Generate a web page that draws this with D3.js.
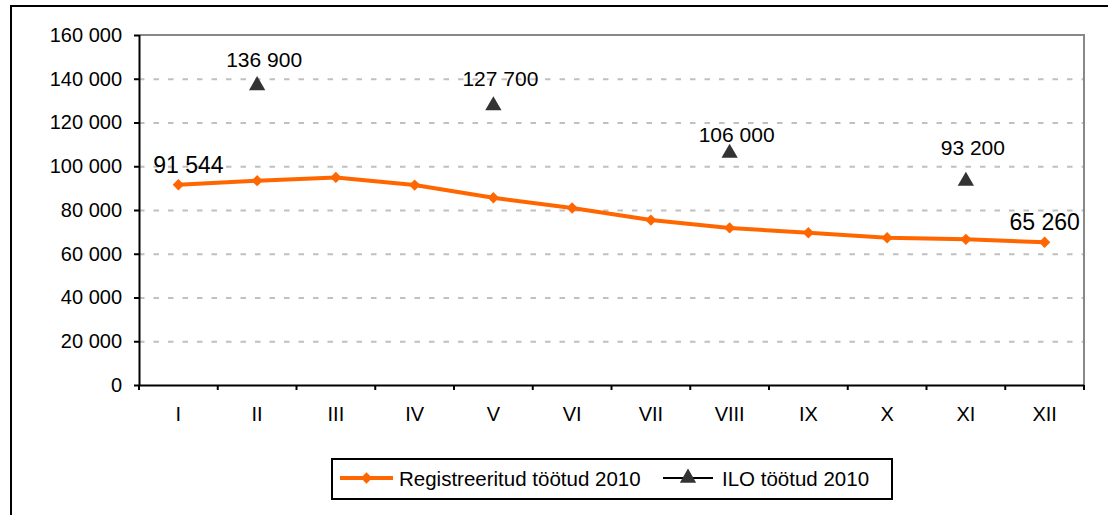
<!DOCTYPE html>
<html>
<head>
<meta charset="utf-8">
<script src="https://cdn.jsdelivr.net/npm/d3@7"></script>
<style>
  html, body { margin: 0; padding: 0; background: #fff; }
  svg { display: block; font-family: "Liberation Sans", Arial, sans-serif; }
</style>
</head>
<body>
<svg id="chart" width="1108" height="515"></svg>
<script>
const months = ["I","II","III","IV","V","VI","VII","VIII","IX","X","XI","XII"];
const registered = [91544, 93400, 94900, 91400, 85600, 80900, 75400, 71800, 69600, 67300, 66600, 65260];
const iloMonths = ["II","V","VIII","XI"];
const iloValues = [136900, 127700, 106000, 93200];
const yTicks = [0, 20000, 40000, 60000, 80000, 100000, 120000, 140000, 160000];
const seriesNames = ["Registreeritud töötud 2010", "ILO töötud 2010"];

const svg = d3.select("#chart");
const W = 1108, H = 515;
const pLeft = 139, pRight = 1084, pTop = 35, pBottom = 385;
const orange = "#FF6600", dark = "#333333";
const ff = "Liberation Sans, Arial, sans-serif";
// vertical offsets of the ILO value labels (layout only)
const iloLabelDy = [-19, -20, -11, -26];

// outer frame (extends beyond the visible area)
svg.append("path").attr("d", `M11,${H+10} L11,6 L${W+10},6`)
  .attr("fill","none").attr("stroke","#000").attr("stroke-width",2);

const x = d3.scaleBand().domain(months).range([pLeft, pRight]).padding(0);
const y = d3.scaleLinear().domain([0, 160000]).range([pBottom, pTop]);
const fmt = v => d3.format(",")(v).replace(/,/g, " ");

// gridlines
svg.append("g").attr("transform", `translate(${pLeft},0)`)
  .call(d3.axisLeft(y).tickValues(yTicks.filter(v => v > 0 && v < 160000)).tickSize(-(pRight-pLeft)).tickFormat(""))
  .call(g => g.select(".domain").remove())
  .call(g => g.selectAll("line").attr("stroke","#c0c0c0").attr("stroke-width",2).attr("stroke-dasharray","5.5,9"));

// top and right plot border
svg.append("path").attr("d", `M${pLeft},${pTop} L${pRight},${pTop} L${pRight},${pBottom}`)
  .attr("fill","none").attr("stroke","#888").attr("stroke-width",2);

// y axis
svg.append("g").attr("transform", `translate(${pLeft},0)`)
  .call(d3.axisLeft(y).tickValues(yTicks).tickSize(5).tickPadding(12).tickFormat(fmt))
  .call(g => g.select(".domain").attr("stroke","#000").attr("stroke-width",2).attr("d", `M0.5,${pTop}V${pBottom}`))
  .call(g => g.selectAll("line").attr("stroke","#000").attr("stroke-width",2))
  .call(g => g.selectAll("text").attr("font-size",20).attr("fill","#000").attr("font-family",ff));

// x axis
const xa = svg.append("g").attr("transform", `translate(0,${pBottom})`)
  .call(d3.axisBottom(x).tickSize(0).tickPadding(22))
  .call(g => g.select(".domain").attr("stroke","#000").attr("stroke-width",2).attr("d", `M${pLeft},0.5H${pRight}`))
  .call(g => g.selectAll("text").attr("font-size",20).attr("fill","#000").attr("font-family",ff));
xa.selectAll(".bound").data(d3.range(months.length + 1)).enter().append("line")
  .attr("x1", i => pLeft + i * x.bandwidth()).attr("x2", i => pLeft + i * x.bandwidth())
  .attr("y1", 0).attr("y2", 5).attr("stroke","#000").attr("stroke-width",2);

// registered line
const cx = m => x(m) + x.bandwidth() / 2;
svg.append("path").datum(registered)
  .attr("d", d3.line().x((d,i) => cx(months[i])).y(d => y(d)))
  .attr("fill","none").attr("stroke",orange).attr("stroke-width",4).attr("stroke-linejoin","round");
const diamond = d3.symbol().type(d3.symbolSquare).size(64);
svg.selectAll(".dia").data(registered).enter().append("path")
  .attr("d", diamond)
  .attr("transform", (d,i) => `translate(${cx(months[i])},${y(d)}) rotate(45)`)
  .attr("fill",orange);

// labels for first and last registered value
const lastIdx = registered.length - 1;
svg.append("text").attr("x", cx(months[0]) + 10).attr("y", y(registered[0]) - 12)
  .attr("text-anchor","middle").attr("font-size",23).attr("font-family",ff).text(fmt(registered[0]));
svg.append("text").attr("x", cx(months[lastIdx])).attr("y", y(registered[lastIdx]) - 12)
  .attr("text-anchor","middle").attr("font-size",23).attr("font-family",ff).text(fmt(registered[lastIdx]));

// ILO markers
const tri = d3.symbol().type(d3.symbolTriangle).size(115);
svg.selectAll(".tri").data(iloValues).enter().append("path")
  .attr("d", tri)
  .attr("transform", (d,i) => `translate(${cx(iloMonths[i])},${y(d)})`)
  .attr("fill",dark);
svg.selectAll(".ilolab").data(iloValues).enter().append("text")
  .attr("x", (d,i) => cx(iloMonths[i]) + 7)
  .attr("y", (d,i) => y(d) + iloLabelDy[i])
  .attr("text-anchor","middle").attr("font-size",21).attr("font-family",ff).text(d => fmt(d));

// legend
const lg = svg.append("g");
lg.append("rect").attr("x",332).attr("y",459).attr("width",560).attr("height",40)
  .attr("fill","#fff").attr("stroke","#000").attr("stroke-width",2);
lg.append("line").attr("x1",340).attr("x2",393).attr("y1",478).attr("y2",478).attr("stroke",orange).attr("stroke-width",4);
lg.append("path").attr("d", diamond).attr("transform","translate(366.5,478) rotate(45)").attr("fill",orange);
lg.append("text").attr("x",399).attr("y",486).attr("font-size",20.5).attr("font-family",ff).text(seriesNames[0]);
lg.append("line").attr("x1",663).attr("x2",713).attr("y1",478).attr("y2",478).attr("stroke","#000").attr("stroke-width",2);
lg.append("path").attr("d", tri).attr("transform","translate(688,478)").attr("fill",dark);
lg.append("text").attr("x",722).attr("y",486).attr("font-size",20.5).attr("font-family",ff).text(seriesNames[1]);
</script>
</body>
</html>
